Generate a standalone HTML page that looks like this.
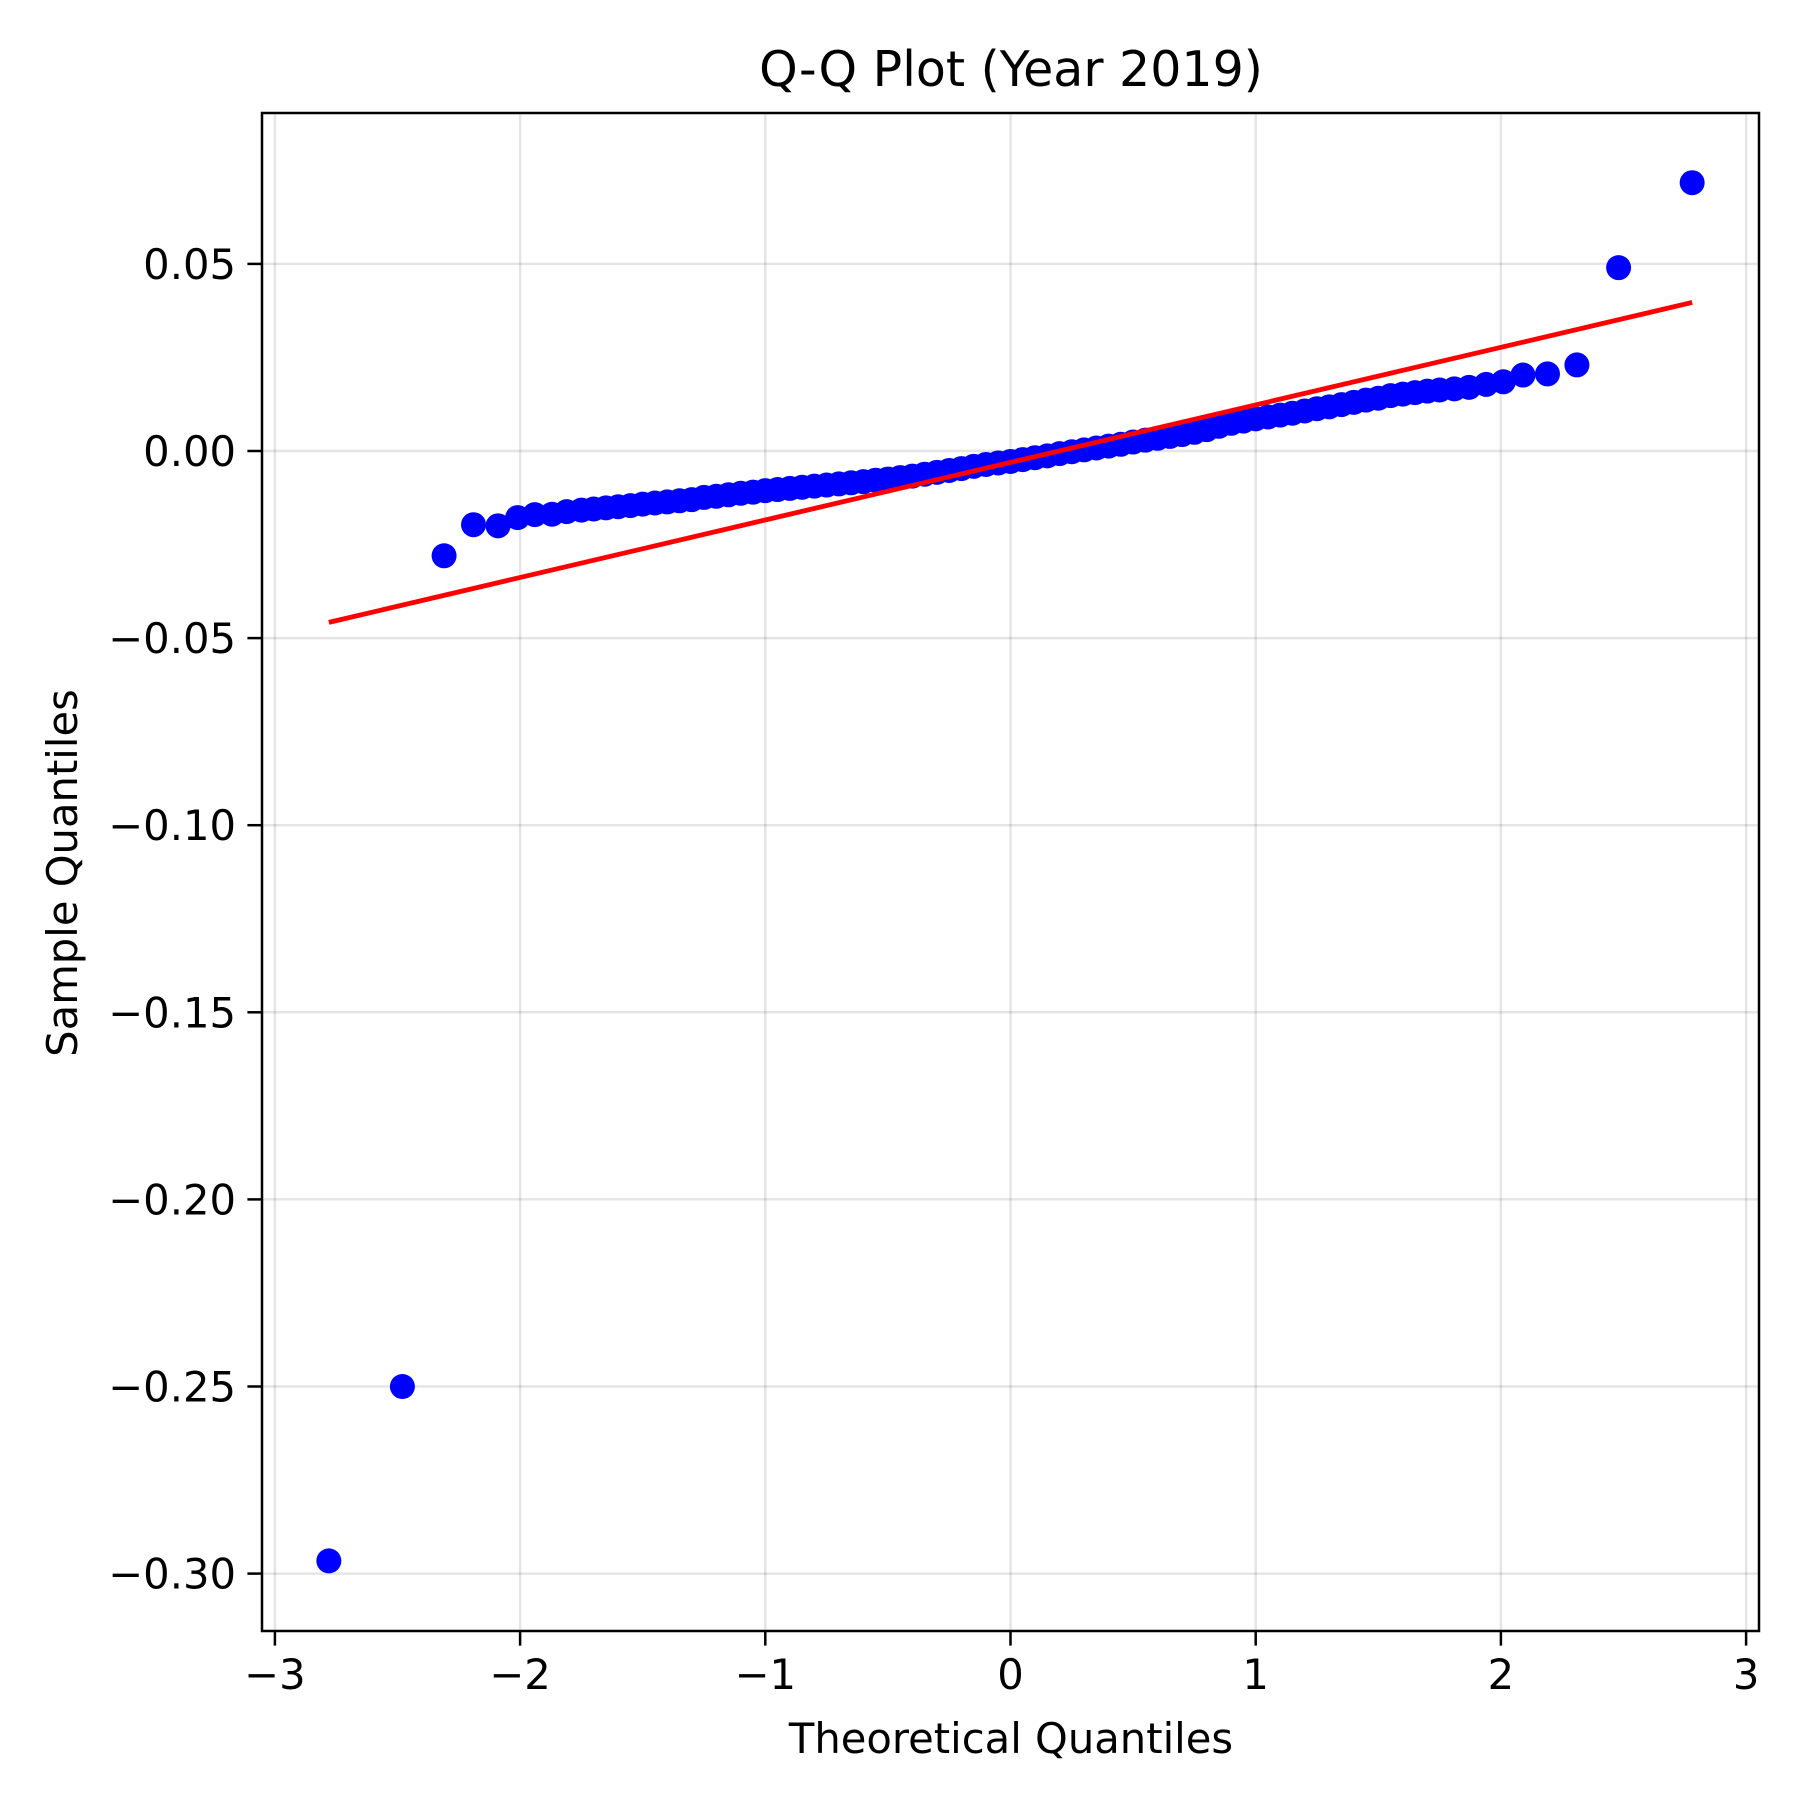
<!DOCTYPE html>
<html><head><meta charset="utf-8"><style>
html,body{margin:0;padding:0;background:#fff;}
svg text{font-family:"DejaVu Sans","Liberation Sans",sans-serif;fill:#000;}
</style></head><body>
<svg id="chart" width="1800" height="1800" viewBox="0 0 1800 1800" xmlns="http://www.w3.org/2000/svg">
<rect x="0" y="0" width="1800" height="1800" fill="#fff"/>
<text x="1011" y="86" font-size="49" text-anchor="middle">Q-Q Plot (Year 2019)</text>
<g id="grid"></g>
<g id="marks"></g>
<rect x="262" y="113" width="1497" height="1518" fill="none" stroke="#000" stroke-width="2.5"/>
<g id="ticks"></g>
<text x="1011" y="1753" font-size="41.7" text-anchor="middle">Theoretical Quantiles</text>
<text transform="translate(77,873) rotate(-90)" font-size="41.7" text-anchor="middle">Sample Quantiles</text>
</svg>
<script>
const xTicks = [-3,-2,-1,0,1,2,3];
const xTickLabels = ["\u22123","\u22122","\u22121","0","1","2","3"];
const yTicks = [0.05,0,-0.05,-0.10,-0.15,-0.20,-0.25,-0.30];
const yTickLabels = ["0.05","0.00","\u22120.05","\u22120.10","\u22120.15","\u22120.20","\u22120.25","\u22120.30"];
const theoretical = [-2.78,-2.48,-2.31,-2.19,-2.09,-2.01,-1.94,-1.87,-1.81,-1.75,-1.70,-1.65,-1.60,-1.55,-1.50,-1.45,-1.40,-1.35,-1.30,-1.25,-1.20,-1.15,-1.10,-1.05,-1.00,-0.95,-0.90,-0.85,-0.80,-0.75,-0.70,-0.65,-0.60,-0.55,-0.50,-0.45,-0.40,-0.35,-0.30,-0.25,-0.20,-0.15,-0.10,-0.05,0.00,0.05,0.10,0.15,0.20,0.25,0.30,0.35,0.40,0.45,0.50,0.55,0.60,0.65,0.70,0.75,0.80,0.85,0.90,0.95,1.00,1.05,1.10,1.15,1.20,1.25,1.30,1.35,1.40,1.45,1.50,1.55,1.60,1.65,1.70,1.75,1.81,1.87,1.94,2.01,2.09,2.19,2.31,2.48,2.78];
const sample = [-0.2966,-0.2500,-0.0280,-0.0197,-0.0200,-0.0178,-0.0170,-0.0169,-0.0162,-0.0158,-0.0155,-0.0152,-0.0149,-0.0146,-0.0142,-0.0139,-0.0136,-0.0133,-0.0130,-0.0124,-0.0121,-0.0117,-0.0113,-0.0110,-0.0106,-0.0103,-0.0100,-0.0097,-0.0094,-0.0091,-0.0088,-0.0085,-0.0082,-0.0078,-0.0075,-0.0071,-0.0067,-0.0062,-0.0057,-0.0052,-0.0047,-0.0041,-0.0036,-0.0032,-0.0028,-0.0023,-0.0018,-0.0013,-0.0007,-0.0002,0.0003,0.0008,0.0013,0.0018,0.0024,0.0029,0.0034,0.0039,0.0044,0.0050,0.0057,0.0066,0.0074,0.0080,0.0086,0.0091,0.0096,0.0101,0.0107,0.0113,0.0118,0.0124,0.0130,0.0136,0.0141,0.0148,0.0152,0.0156,0.0160,0.0163,0.0166,0.0170,0.0178,0.0185,0.0203,0.0206,0.0230,0.0490,0.0717];
const fitX = [-2.78, 2.78];
const fitY = [-0.0458, 0.0397];

const NS = "http://www.w3.org/2000/svg";
const L=262,R=1759,T=113,B=1631;
function sx(v){ return 1010.5 + v*245.2; }
function sy(v){ return 451 - v*3742; }
function mk(tag, attrs, parent){ const e=document.createElementNS(NS,tag); for(const k in attrs) e.setAttribute(k,attrs[k]); parent.appendChild(e); return e; }
const grid=document.getElementById('grid'), ticks=document.getElementById('ticks'), marks=document.getElementById('marks');
xTicks.forEach((t,i)=>{
  const x=sx(t);
  const g=mk('line',{x1:x,x2:x,y1:T,y2:B,stroke:'#000','stroke-opacity':0.1,'stroke-width':2.5},grid);
  
  
  const tk=mk('line',{x1:x,x2:x,y1:B,y2:B+14.6,stroke:'#000','stroke-width':2.5},ticks);
  
  
  const tx=mk('text',{x:x,y:B+58,'font-size':41.7,'text-anchor':'middle'},ticks);
  tx.textContent=xTickLabels[i];
  
  
});
yTicks.forEach((t,i)=>{
  const y=sy(t);
  const g=mk('line',{x1:L,x2:R,y1:y,y2:y,stroke:'#000','stroke-opacity':0.1,'stroke-width':2.5},grid);
  
  
  const tk=mk('line',{x1:L-14.6,x2:L,y1:y,y2:y,stroke:'#000','stroke-width':2.5},ticks);
  
  
  const tx=mk('text',{x:L-26,y:y+15,'font-size':41.7,'text-anchor':'end'},ticks);
  tx.textContent=yTickLabels[i];
  
  
});
theoretical.forEach((v,i)=>{
  const c=mk('circle',{cx:sx(v),cy:sy(sample[i]),r:12.5,fill:'#0000ff'},marks);
  
  
});
const fl=mk('line',{x1:sx(fitX[0]),y1:sy(fitY[0]),x2:sx(fitX[1]),y2:sy(fitY[1]),stroke:'#ff0000','stroke-width':4.8},marks);


</script>
</body></html>
